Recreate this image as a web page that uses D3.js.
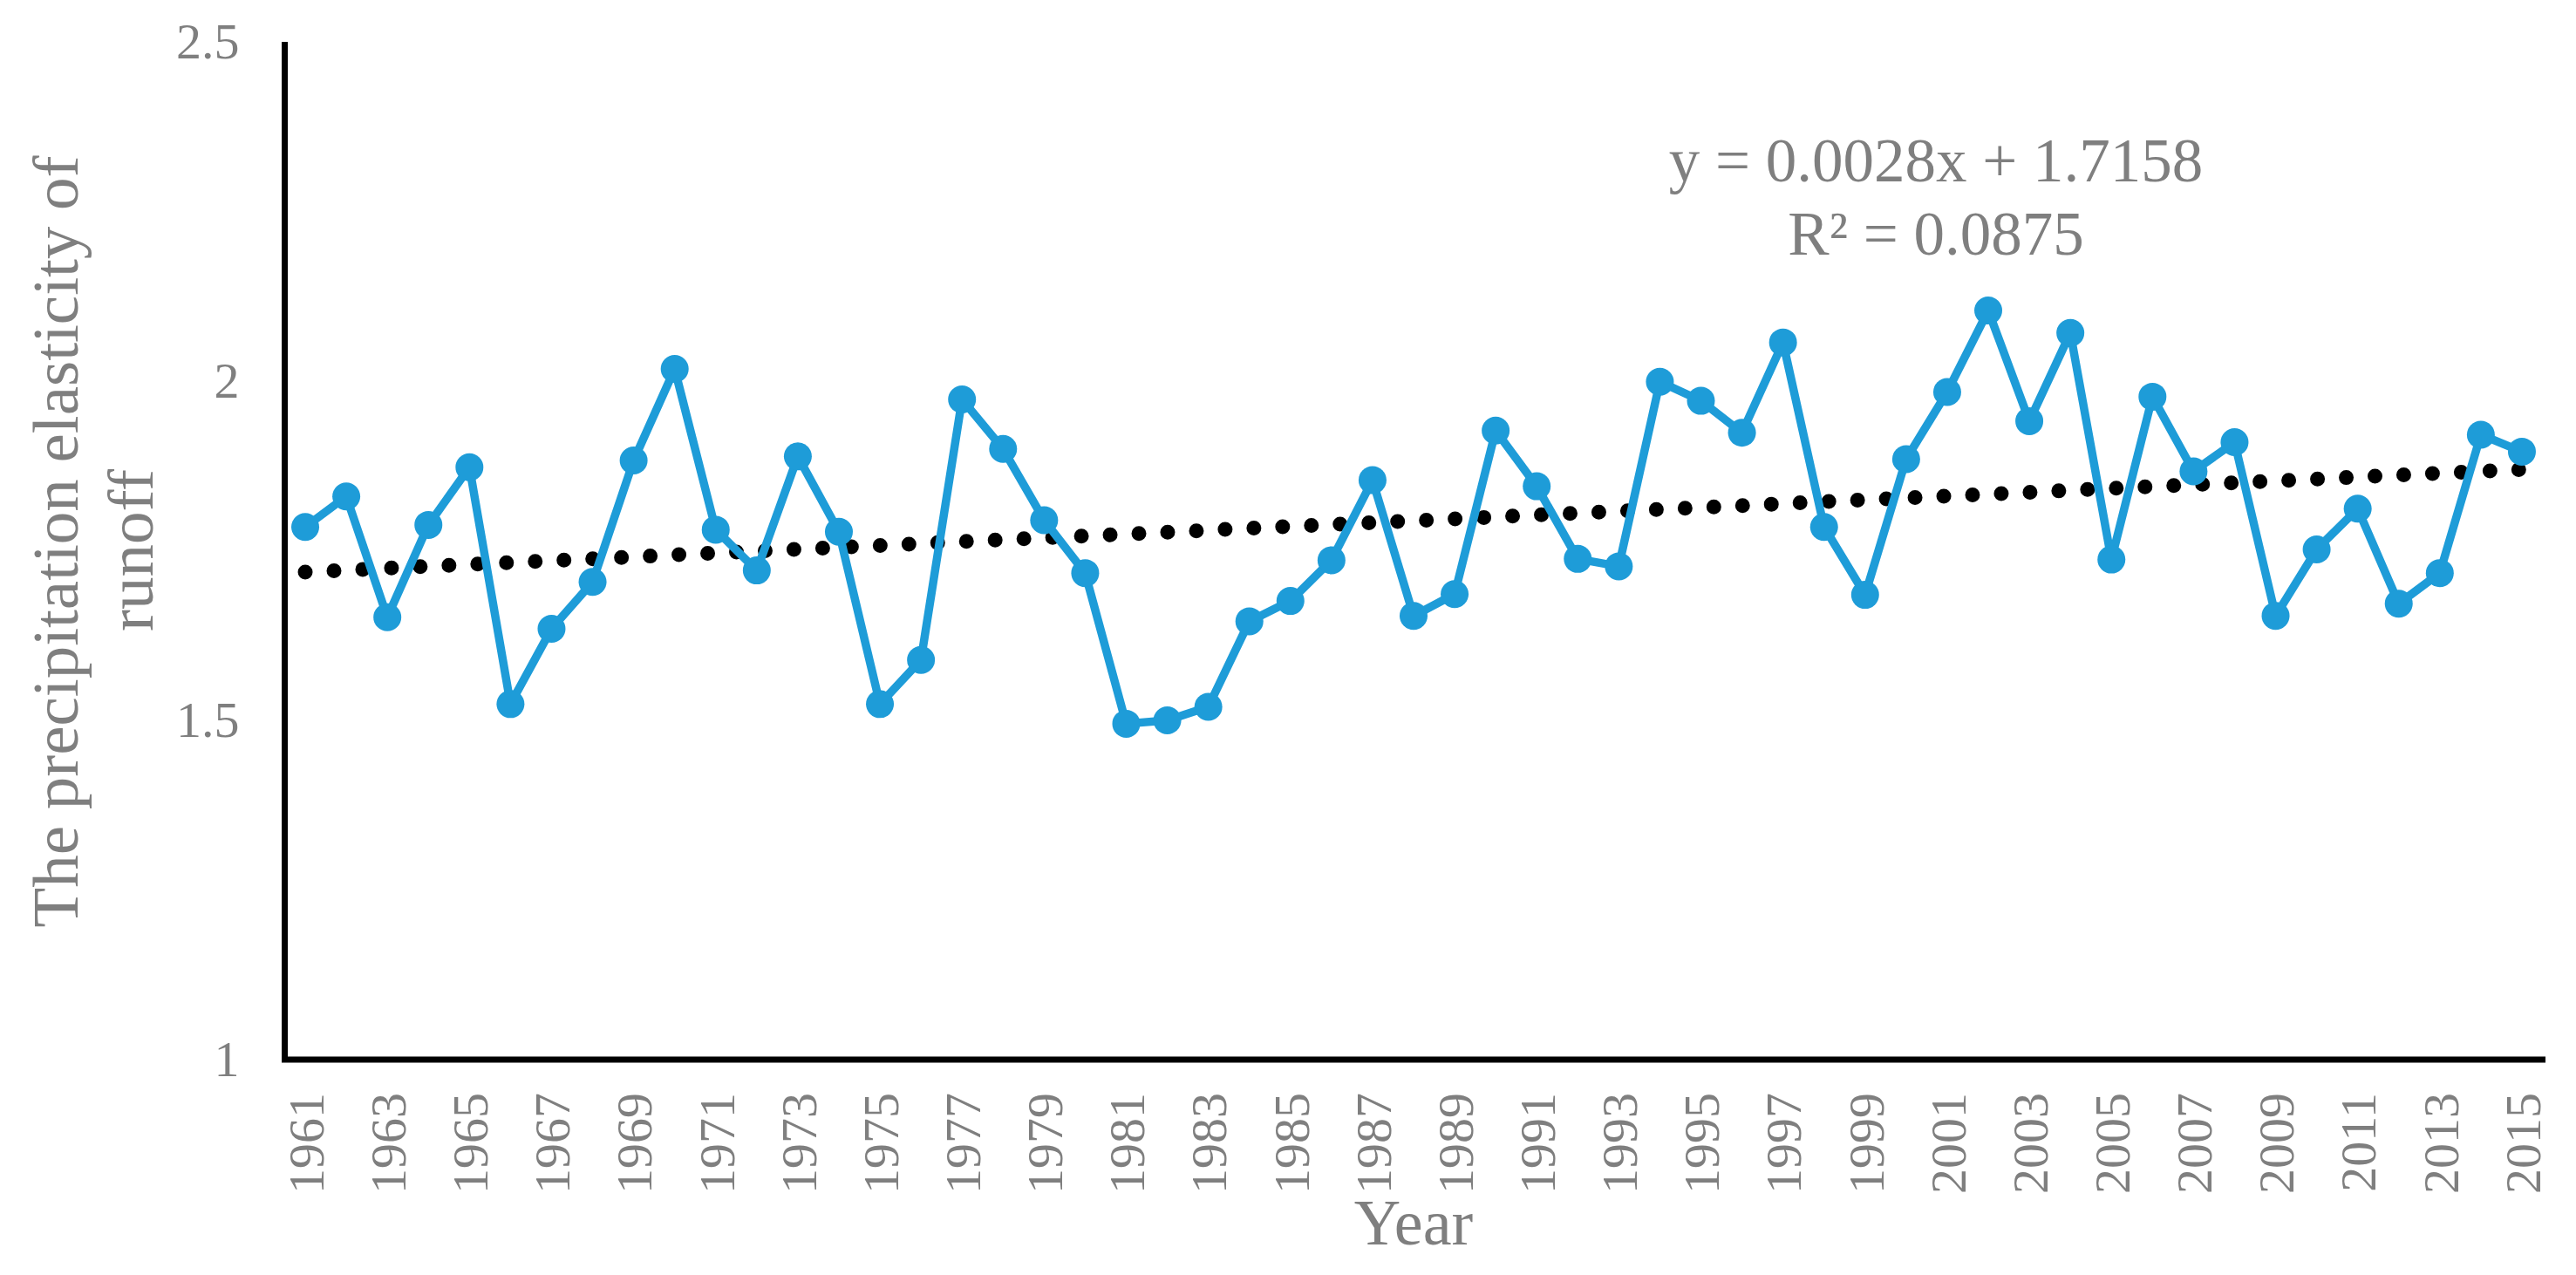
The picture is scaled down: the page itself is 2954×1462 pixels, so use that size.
<!DOCTYPE html>
<html>
<head>
<meta charset="utf-8">
<script src="https://cdn.jsdelivr.net/npm/d3@7/dist/d3.min.js"></script>
<style>
  html, body { margin: 0; padding: 0; background: #fff; }
  svg { display: block; }
</style>
</head>
<body>
<svg id="chart" width="2954" height="1462"></svg>
<script>
// ---- data ----
const years = [1961,1962,1963,1964,1965,1966,1967,1968,1969,1970,
  1971,1972,1973,1974,1975,1976,1977,1978,1979,1980,
  1981,1982,1983,1984,1985,1986,1987,1988,1989,1990,
  1991,1992,1993,1994,1995,1996,1997,1998,1999,2000,
  2001,2002,2003,2004,2005,2006,2007,2008,2009,2010,
  2011,2012,2013,2014,2015];
const elasticity = [1.785,1.830,1.652,1.788,1.873,1.524,1.635,1.704,1.883,2.018,
  1.781,1.721,1.889,1.778,1.524,1.589,1.973,1.900,1.795,1.717,
  1.495,1.500,1.520,1.646,1.676,1.736,1.854,1.654,1.686,1.927,
  1.845,1.738,1.727,1.999,1.971,1.924,2.057,1.785,1.685,1.885,
  1.984,2.104,1.941,2.071,1.737,1.977,1.867,1.910,1.654,1.752,
  1.812,1.672,1.717,1.921,1.896];
const yTicks = [1, 1.5, 2, 2.5];
const xTickLabels = years.filter((d, i) => i % 2 === 0);
const trendSlope = 0.0028;
const trendIntercept = 1.7158;
const equationLines = ["y = 0.0028x + 1.7158", "R\u00B2 = 0.0875"];
const yTitleLines = ["The precipitation elasticity of", "runoff"];
const xTitle = "Year";

// ---- layout ----
(function () {
const svg = d3.select("#chart");
const pLeft = 326.5, pRight = 2915.5, pTop = 48, pBottom = 1215;
const gray = "#7f7f7f";
const blue = "#1e9cd8";
const serif = "'Liberation Serif', 'Times New Roman', serif";

const x = d3.scalePoint().domain(years).range([pLeft, pRight]).padding(0.5);
const y = d3.scaleLinear().domain([1, 2.5]).range([pBottom, pTop]);

svg.append("rect").attr("width", 2954).attr("height", 1462).attr("fill", "#fff");

// trend line (dotted)
const trend = years.map((yr, i) => ({ yr, v: trendIntercept + trendSlope * (i + 1) }));
svg.append("path")
  .datum(trend)
  .attr("fill", "none")
  .attr("stroke", "#000")
  .attr("stroke-width", 17)
  .attr("stroke-linecap", "round")
  .attr("stroke-dasharray", "0 33")
  .attr("d", d3.line().x(d => x(d.yr)).y(d => y(d.v)));

// series line
const series = years.map((yr, i) => ({ yr, v: elasticity[i] }));
svg.append("path")
  .datum(series)
  .attr("fill", "none")
  .attr("stroke", blue)
  .attr("stroke-width", 9.5)
  .attr("stroke-linejoin", "round")
  .attr("d", d3.line().x(d => x(d.yr)).y(d => y(d.v)));

svg.append("g").selectAll("circle")
  .data(series)
  .join("circle")
  .attr("cx", d => x(d.yr))
  .attr("cy", d => y(d.v))
  .attr("r", 16)
  .attr("fill", blue);

// y axis
const yAxis = svg.append("g")
  .attr("transform", `translate(${pLeft},0)`)
  .call(d3.axisLeft(y).tickValues(yTicks).tickSize(0).tickPadding(52).tickFormat(d3.format("")));
yAxis.select(".domain").attr("stroke", "#000").attr("stroke-width", 7)
  .attr("d", `M0,${pTop}V${pBottom}`);
yAxis.selectAll("text")
  .attr("fill", gray)
  .attr("font-family", serif)
  .attr("font-size", 58);

// x axis
const xAxis = svg.append("g")
  .attr("transform", `translate(0,${pBottom})`)
  .call(d3.axisBottom(x).tickValues(xTickLabels).tickSize(0));
xAxis.select(".domain").attr("stroke", "#000").attr("stroke-width", 7)
  .attr("stroke-linecap", "square")
  .attr("d", `M${pLeft},0H${pRight}`);
xAxis.selectAll("text")
  .attr("fill", gray)
  .attr("font-family", serif)
  .attr("font-size", 58)
  .attr("text-anchor", "end")
  .attr("transform", "translate(0,38) rotate(-90)")
  .attr("x", 0)
  .attr("y", 0)
  .attr("dy", "0.35em");

// axis titles
svg.append("text")
  .attr("x", (pLeft + pRight) / 2)
  .attr("y", 1427)
  .attr("text-anchor", "middle")
  .attr("fill", gray)
  .attr("font-family", serif)
  .attr("font-size", 74)
  .text(xTitle);

const yTitleX = [89, 175];
const yTitleY = [621, 631];
yTitleLines.forEach((t, i) => {
  svg.append("text")
    .attr("transform", `translate(${yTitleX[i]},${yTitleY[i]}) rotate(-90)`)
    .attr("text-anchor", "middle")
    .attr("fill", gray)
    .attr("font-family", serif)
    .attr("font-size", 75)
    .text(t);
});

// equation
const eqY = [208, 292];
equationLines.forEach((t, i) => {
  svg.append("text")
    .attr("x", 2220)
    .attr("y", eqY[i])
    .attr("text-anchor", "middle")
    .attr("fill", gray)
    .attr("font-family", serif)
    .attr("font-size", 71)
    .text(t);
});
})();
</script>
</body>
</html>
